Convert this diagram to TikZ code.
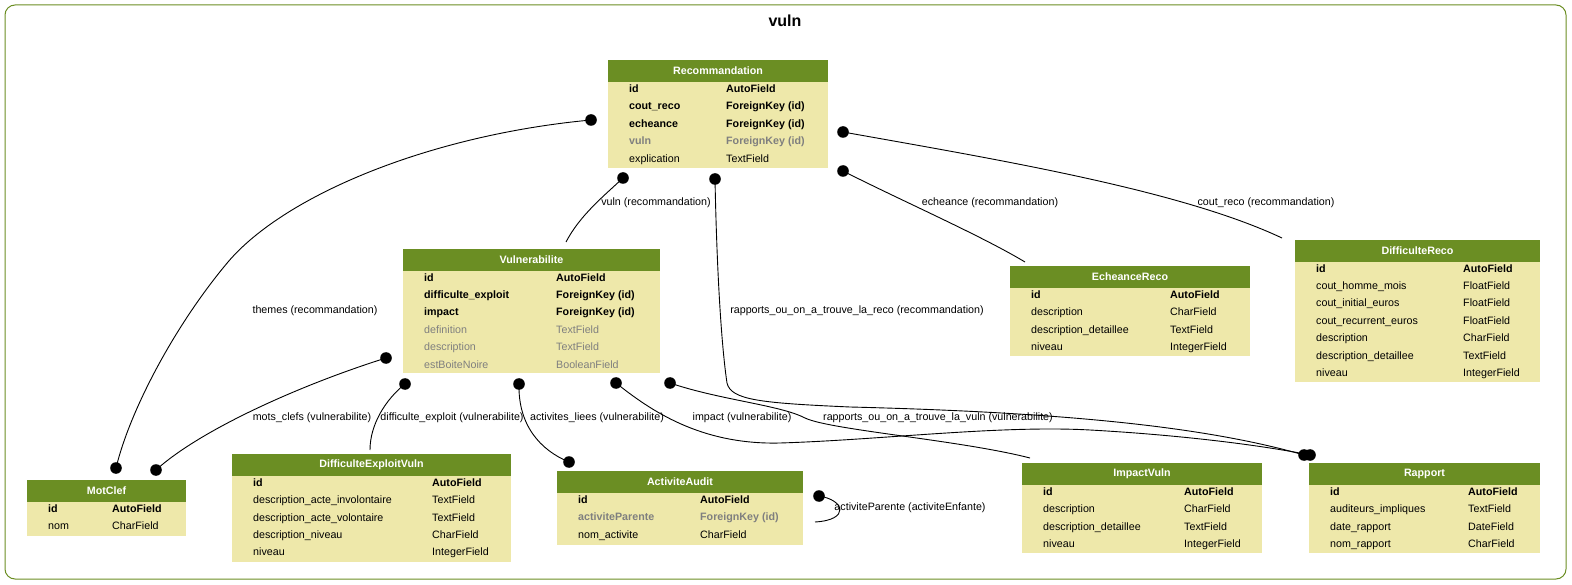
\documentclass[tikz,border=0pt]{standalone}
\usepackage{fontspec}
\setmainfont{Liberation Sans}

\definecolor{olivehead}{HTML}{6B8E23}
\definecolor{palebody}{HTML}{EEE8AA}
\definecolor{inhgray}{HTML}{7F7F7F}

\newcommand{\fkey}{\bfseries}
\newcommand{\fgkey}{\color{inhgray}\bfseries}
\newcommand{\fplain}{}
\newcommand{\fgray}{\color{inhgray}}

% header + body of one model table, drawn from its top left corner
\newcommand{\tableframe}[4]{%
	\fill[palebody] (0,22) rectangle (#2,#3);
	\fill[olivehead] (0,0) rectangle (#2,22);
	\node[headtext] (#1) at ({#2/2},11) {#4};}

% rows: name / type / font
\newcommand{\fieldrows}[3]{%
	\foreach \fname/\ftype/\ffont [count=\i from 0] in {#3} {
		\node[field] at (21,{29.5+\i*#2}) {\ffont\fname};
		\node[field] at (#1,{29.5+\i*#2}) {\ffont\ftype};
	}}

\begin{document}
\begin{tikzpicture}[x=1pt,y=-1pt,
	headtext/.style={text=white,font=\fontsize{10.7}{12}\selectfont\bfseries,inner sep=0pt},
	field/.style={anchor=west,inner sep=0pt,text height=7.6,text depth=2.2,font=\fontsize{10.7}{12}\selectfont},
	rellabel/.style={inner sep=1pt,font=\fontsize{10.7}{12}\selectfont},
	rel/.style={line width=0.9pt},
	dot/.style={fill=black}]

	\useasboundingbox (0,0) rectangle (1572,585);

	\draw[olivehead,line width=1pt,rounded corners=10] (5,5) rectangle (1566,579);
	\node[font=\fontsize{16}{18}\selectfont\bfseries] (title) at (785,21) {vuln};

	\begin{scope} [shift={(608,60)}]
		\tableframe{reco}{220}{108}{Recommandation}
		\fieldrows{118}{17.5}{id/AutoField/\fkey, cout\_reco/ForeignKey (id)/\fkey, echeance/ForeignKey (id)/\fkey, vuln/ForeignKey (id)/\fgkey, explication/TextField/\fplain}
	\end{scope}

	\begin{scope} [shift={(403,249)}]
		\tableframe{vuln}{257}{124}{Vulnerabilite}
		\fieldrows{153}{17.4}{id/AutoField/\fkey, difficulte\_exploit/ForeignKey (id)/\fkey, impact/ForeignKey (id)/\fkey, definition/TextField/\fgray, description/TextField/\fgray, estBoiteNoire/BooleanField/\fgray}
	\end{scope}

	\begin{scope} [shift={(1010,266)}]
		\tableframe{echeance}{240}{90}{EcheanceReco}
		\fieldrows{160}{17.5}{id/AutoField/\fkey, description/CharField/\fplain, description\_detaillee/TextField/\fplain, niveau/IntegerField/\fplain}
	\end{scope}

	\begin{scope} [shift={(1295,240)}]
		\tableframe{diffreco}{245}{142}{DifficulteReco}
		\fieldrows{168}{17.4}{id/AutoField/\fkey, cout\_homme\_mois/FloatField/\fplain, cout\_initial\_euros/FloatField/\fplain, cout\_recurrent\_euros/FloatField/\fplain, description/CharField/\fplain, description\_detaillee/TextField/\fplain, niveau/IntegerField/\fplain}
	\end{scope}

	\begin{scope} [shift={(27,480)}]
		\tableframe{motclef}{159}{56}{MotClef}
		\fieldrows{85}{17.5}{id/AutoField/\fkey, nom/CharField/\fplain}
	\end{scope}

	\begin{scope} [shift={(232,454)}]
		\tableframe{diffexpl}{279}{108}{DifficulteExploitVuln}
		\fieldrows{200}{17.4}{id/AutoField/\fkey, description\_acte\_involontaire/TextField/\fplain, description\_acte\_volontaire/TextField/\fplain, description\_niveau/CharField/\fplain, niveau/IntegerField/\fplain}
	\end{scope}

	\begin{scope} [shift={(557,471)}]
		\tableframe{activite}{246}{74}{ActiviteAudit}
		\fieldrows{143}{17.5}{id/AutoField/\fkey, activiteParente/ForeignKey (id)/\fgkey, nom\_activite/CharField/\fplain}
	\end{scope}

	\begin{scope} [shift={(1022,463)}]
		\tableframe{impact}{240}{90}{ImpactVuln}
		\fieldrows{162}{17.5}{id/AutoField/\fkey, description/CharField/\fplain, description\_detaillee/TextField/\fplain, niveau/IntegerField/\fplain}
	\end{scope}

	\begin{scope} [shift={(1309,463)}]
		\tableframe{rapport}{231}{90}{Rapport}
		\fieldrows{159}{17.5}{id/AutoField/\fkey, auditeurs\_impliques/TextField/\fplain, date\_rapport/DateField/\fplain, nom\_rapport/CharField/\fplain}
	\end{scope}

	% connector ends
	\coordinate (themesA) at (591,120);
	\coordinate (themesB) at (116,468);
	\coordinate (vulnA) at (623,178);
	\coordinate (vulnB) at (566,242);
	\coordinate (recoRapA) at (715,179);
	\coordinate (recoRapB) at (1304,455);
	\coordinate (echA) at (843,171);
	\coordinate (echB) at (1025,262);
	\coordinate (coutA) at (843,132);
	\coordinate (coutB) at (1282,238);
	\coordinate (motsA) at (386,358);
	\coordinate (motsB) at (156,470);
	\coordinate (diffA) at (405,384);
	\coordinate (diffB) at (370,450);
	\coordinate (actA) at (519,384);
	\coordinate (actB) at (569,462);
	\coordinate (impA) at (670,383);
	\coordinate (impB) at (1030,458);
	\coordinate (vulnRapA) at (616,383);
	\coordinate (vulnRapB) at (1310,455);
	\coordinate (parentA) at (819,496);
	\coordinate (parentB) at (815,522);

	\draw[rel] (themesA) .. controls (430,135) and (285,195) .. (228,262) .. controls (175,325) and (130,410) .. (themesB);
	\draw[rel] (vulnA) .. controls (605,195) and (580,215) .. (vulnB);
	\draw[rel] (recoRapA) .. controls (717,280) and (722,350) .. (727,383) .. controls (731,400) and (760,403) .. (850,407) .. controls (1050,412) and (1200,425) .. (recoRapB);
	\draw[rel] (echA) .. controls (900,200) and (980,235) .. (echB);
	\draw[rel] (coutA) .. controls (1000,160) and (1180,190) .. (coutB);
	\draw[rel] (motsA) .. controls (300,385) and (200,430) .. (motsB);
	\draw[rel] (diffA) .. controls (385,400) and (370,425) .. (diffB);
	\draw[rel] (actA) .. controls (518,425) and (540,450) .. (actB);
	\draw[rel] (impA) .. controls (720,400) and (780,405) .. (805,418) .. controls (830,430) and (960,440) .. (impB);
	\draw[rel] (vulnRapA) .. controls (650,410) and (700,445) .. (780,443) .. controls (880,440) and (1000,425) .. (1090,430) .. controls (1180,435) and (1260,445) .. (vulnRapB);
	\draw[rel] (parentA) .. controls (845,500) and (850,520) .. (parentB);

	\foreach \d in {themesA,themesB,vulnA,recoRapA,recoRapB,echA,coutA,motsA,motsB,diffA,actA,actB,impA,vulnRapA,vulnRapB,parentA}
		\fill[dot] (\d) circle (5.8);

	\node[rellabel] (lthemes) at (315,311) {themes (recommandation)};
	\node[rellabel] (lvuln) at (656,203) {vuln (recommandation)};
	\node[rellabel] (lech) at (990,203) {echeance (recommandation)};
	\node[rellabel] (lcout) at (1266,203) {cout\_reco (recommandation)};
	\node[rellabel] (lrecorap) at (857,311) {rapports\_ou\_on\_a\_trouve\_la\_reco (recommandation)};
	\node[rellabel] (lmots) at (312,418) {mots\_clefs (vulnerabilite)};
	\node[rellabel] (ldiff) at (452,418) {difficulte\_exploit (vulnerabilite)};
	\node[rellabel] (lact) at (597,418) {activites\_liees (vulnerabilite)};
	\node[rellabel] (limp) at (742,418) {impact (vulnerabilite)};
	\node[rellabel] (lvulnrap) at (938,418) {rapports\_ou\_on\_a\_trouve\_la\_vuln (vulnerabilite)};
	\node[rellabel] (lparent) at (910,508) {activiteParente (activiteEnfante)};

\end{tikzpicture}
\end{document}
